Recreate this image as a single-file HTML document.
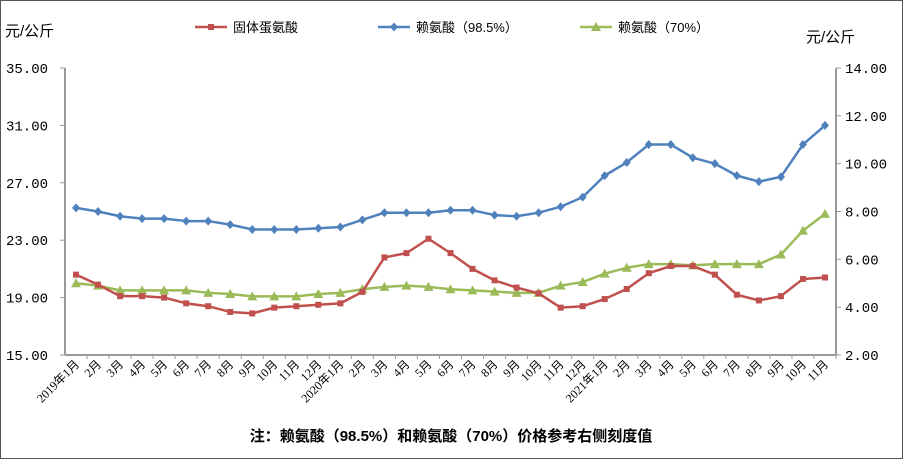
<!DOCTYPE html>
<html><head><meta charset="utf-8"><style>
html,body{margin:0;padding:0;background:#fff}
svg{display:block;font-family:"Liberation Serif","Noto Sans CJK SC",serif}
</style></head><body>
<svg width="903" height="459" xmlns="http://www.w3.org/2000/svg">
<rect x="0.5" y="0.5" width="902" height="458" fill="#fff" stroke="#555"/>
<text x="5" y="36" font-size="15" font-family="Liberation Sans,Noto Sans CJK SC,sans-serif">元/公斤</text>
<text x="806" y="42" font-size="15" font-family="Liberation Sans,Noto Sans CJK SC,sans-serif">元/公斤</text>
<g id="legend" font-size="13" font-family="Liberation Sans,Noto Sans CJK SC,sans-serif"></g>
<g id="axes"></g>
<g id="series"></g>
<text x="451" y="441" text-anchor="middle" font-size="15" font-weight="bold" font-family="Liberation Sans,Noto Sans CJK SC,sans-serif">注：赖氨酸（98.5%）和赖氨酸（70%）价格参考右侧刻度值</text>
</svg>
<script>
const categories=["2019年1月","2月","3月","4月","5月","6月","7月","8月","9月","10月","11月","12月","2020年1月","2月","3月","4月","5月","6月","7月","8月","9月","10月","11月","12月","2021年1月","2月","3月","4月","5月","6月","7月","8月","9月","10月","11月"];
const methionine=[20.6,19.9,19.1,19.1,19.0,18.6,18.4,18.0,17.9,18.3,18.4,18.5,18.6,19.4,21.8,22.1,23.1,22.1,21.0,20.2,19.7,19.3,18.3,18.4,18.9,19.6,20.7,21.2,21.2,20.6,19.2,18.8,19.1,20.3,20.4];
const lysine985=[8.15,8.0,7.8,7.7,7.7,7.6,7.6,7.45,7.25,7.25,7.25,7.3,7.35,7.65,7.95,7.95,7.95,8.05,8.05,7.85,7.8,7.95,8.2,8.6,9.5,10.05,10.8,10.8,10.25,10.0,9.5,9.25,9.45,10.8,11.6];
const lysine70=[5.0,4.9,4.7,4.7,4.7,4.7,4.6,4.55,4.45,4.45,4.45,4.55,4.6,4.75,4.85,4.9,4.85,4.75,4.7,4.65,4.6,4.6,4.9,5.05,5.4,5.65,5.8,5.8,5.75,5.8,5.8,5.8,6.2,7.2,7.9];
const leftTicks=[15,19,23,27,31,35];
const rightTicks=[2,4,6,8,10,12,14];
const NS="http://www.w3.org/2000/svg";
const X0=65,X1=836,YT=68,YB=355;
const step=(X1-X0)/categories.length;
const xAt=i=>X0+step*(i+0.5);
const yL=v=>YB-(v-15)/(35-15)*(YB-YT);
const yR=v=>YB-(v-2)/(14-2)*(YB-YT);
function mk(tag,attrs,parent){const e=document.createElementNS(NS,tag);for(const k in attrs)e.setAttribute(k,attrs[k]);parent.appendChild(e);return e;}
const axes=document.getElementById('axes');
const l1=mk('line',{x1:X0,y1:YT,x2:X0,y2:YB,stroke:'#999','stroke-width':2},axes);


const l2=mk('line',{x1:X1,y1:YT,x2:X1,y2:YB,stroke:'#999','stroke-width':2},axes);


const l3=mk('line',{x1:X0,y1:YB,x2:X1,y2:YB,stroke:'#999','stroke-width':2},axes);


leftTicks.forEach(v=>{const y=yL(v);
mk('line',{x1:X0-5,y1:y,x2:X0,y2:y,stroke:'#999'},axes);
const t=mk('text',{x:X0-17,y:y+5,'text-anchor':'end','font-size':14,'font-family':'Liberation Mono,monospace'},axes);t.textContent=v.toFixed(2);

});
rightTicks.forEach(v=>{const y=yR(v);
mk('line',{x1:X1,y1:y,x2:X1+5,y2:y,stroke:'#999'},axes);
const t=mk('text',{x:X1+9,y:y+5,'font-size':14,'font-family':'Liberation Mono,monospace'},axes);t.textContent=v.toFixed(2);

});
categories.forEach((c,i)=>{const x=X0+step*(i+1);
mk('line',{x1:x,y1:YB,x2:x,y2:YB+4,stroke:'#999'},axes);
const cx=xAt(i)+4;
const t=mk('text',{x:cx,y:YB+10,'text-anchor':'end','font-size':12,'font-family':'Liberation Serif,Noto Sans CJK SC,serif',transform:`rotate(-45 ${cx} ${YB+10})`},axes);t.textContent=c;

});
const ser=document.getElementById('series');
function draw(vals,yf,color,shape,name){
const g=mk('g',{},ser);


mk('polyline',{points:vals.map((v,i)=>xAt(i)+','+yf(v)).join(' '),fill:'none',stroke:color,'stroke-width':2.5,'stroke-linejoin':'round'},g);
vals.forEach((v,i)=>{const x=xAt(i),y=yf(v);let m;
if(shape==='sq')m=mk('rect',{x:x-3,y:y-3,width:6,height:6,fill:color},g);
else if(shape==='di')m=mk('polygon',{points:`${x},${y-4.5} ${x+4},${y} ${x},${y+4.5} ${x-4},${y}`,fill:color},g);
else m=mk('polygon',{points:`${x},${y-5} ${x+5},${y+4} ${x-5},${y+4}`,fill:color},g);

});}
draw(lysine70,yR,'#9BBB59','tri','lysine-70-series');
draw(methionine,yL,'#C0504D','sq','methionine-series');
draw(lysine985,yR,'#4F81BD','di','lysine-98-5-series');
const lg=document.getElementById('legend');
[['固体蛋氨酸','#C0504D','sq',195],['赖氨酸（98.5%）','#4F81BD','di',378],['赖氨酸（70%）','#9BBB59','tri',580]].forEach(([txt,col,sh,x])=>{
const y=27;
const ln=mk('line',{x1:x,y1:y,x2:x+32,y2:y,stroke:col,'stroke-width':2.5},lg);


const cx=x+16;
if(sh==='sq')mk('rect',{x:cx-3,y:y-3,width:6,height:6,fill:col},lg);
else if(sh==='di')mk('polygon',{points:`${cx},${y-4.5} ${cx+4},${y} ${cx},${y+4.5} ${cx-4},${y}`,fill:col},lg);
else mk('polygon',{points:`${cx},${y-5} ${cx+5},${y+4} ${cx-5},${y+4}`,fill:col},lg);
const t=mk('text',{x:x+38,y:y+5},lg);t.textContent=txt;

});
</script>
</body></html>
